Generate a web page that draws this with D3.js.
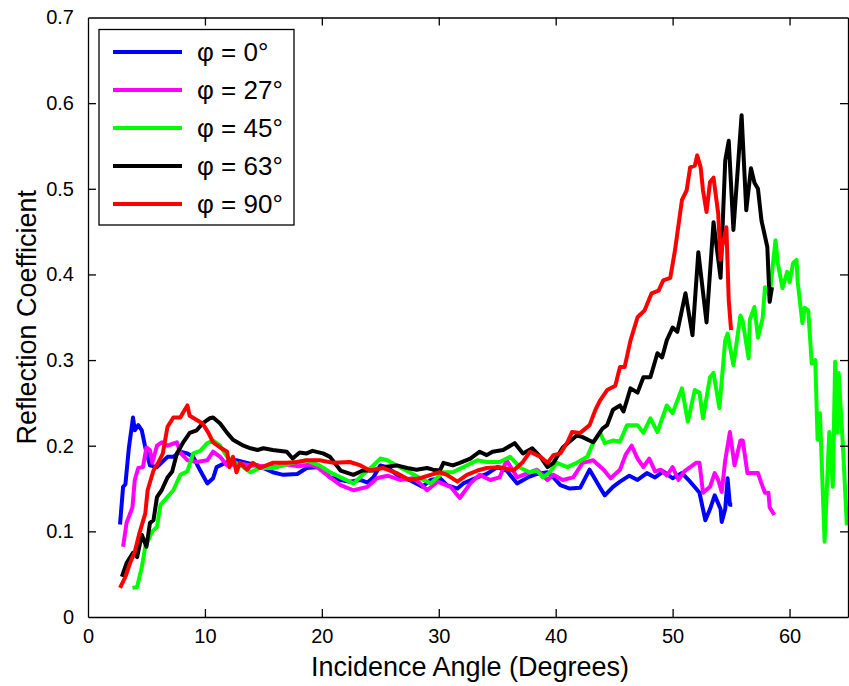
<!DOCTYPE html>
<html><head><meta charset="utf-8">
<script src="https://cdn.jsdelivr.net/npm/d3@7"></script>
<style>
html,body{margin:0;padding:0;background:#fff;}
text{font-family:"Liberation Sans",Arial,Helvetica,sans-serif;fill:#000;}
</style></head>
<body><svg id="chart" width="849" height="686"></svg>
<script>
// ---------- DATA ----------
const seriesLabels = ["φ = 0°", "φ = 27°", "φ = 45°", "φ = 63°", "φ = 90°"];
const seriesColors = ["#0000ff", "#ff00ff", "#00ff00", "#000000", "#ff0000"];
const xTicks = [0, 10, 20, 30, 40, 50, 60];
const yTicks = [0, 0.1, 0.2, 0.3, 0.4, 0.5, 0.6, 0.7];

const phi0X = [2.74,3.0,3.2,3.5,3.85,4.0,4.3,4.6,4.9,5.3,5.9,6.8,7.3,7.9,8.5,9.0,9.6,10.2,10.7,11.0,11.9,12.7,13.6,14.5,15.8,16.7,17.9,18.7,19.8,20.7,21.6,22.4,23.3,23.9,24.4,25.0,25.6,26.7,27.5,28.6,29.3,30.1,30.7,31.6,32.1,33.3,34.1,35.0,35.8,36.7,37.6,38.4,39.3,39.8,40.4,41.2,42.1,42.9,43.8,44.2,44.9,45.5,46.3,47.0,47.8,48.5,49.2,50.0,50.8,51.5,52.0,52.3,52.8,53.2,53.6,54.1,54.2,54.5,54.7,54.9,55.1];
const phi0Y = [0.108,0.152,0.155,0.198,0.233,0.218,0.224,0.218,0.198,0.177,0.175,0.187,0.187,0.193,0.191,0.187,0.171,0.156,0.162,0.175,0.181,0.183,0.180,0.177,0.169,0.166,0.167,0.174,0.175,0.163,0.160,0.158,0.160,0.157,0.163,0.177,0.175,0.163,0.160,0.152,0.160,0.162,0.154,0.150,0.156,0.163,0.167,0.175,0.171,0.156,0.163,0.167,0.169,0.163,0.154,0.150,0.151,0.172,0.151,0.142,0.152,0.158,0.165,0.160,0.168,0.163,0.170,0.162,0.168,0.158,0.150,0.145,0.113,0.126,0.142,0.126,0.111,0.126,0.162,0.131,0.131];

const phi27X = [3.0,3.3,3.8,4.0,4.3,4.7,5.0,5.3,5.5,5.9,6.3,6.8,7.2,7.6,7.9,8.5,9.3,10.2,10.7,11.3,11.9,13.0,14.0,15.0,16.0,17.0,18.0,19.0,19.6,20.7,21.6,22.7,23.9,24.7,25.6,26.7,27.8,28.4,29.0,29.9,31.0,31.8,32.7,33.5,34.4,35.2,35.8,36.7,37.6,38.4,39.3,39.8,40.6,41.5,42.3,43.2,44.1,44.7,45.5,46.0,46.5,47.0,47.5,48.0,48.5,49.0,49.5,50.0,50.5,51.0,51.5,52.0,52.3,52.6,53.2,53.6,53.9,54.2,54.5,54.9,55.3,55.8,56.0,56.4,56.9,57.3,57.6,57.9,58.2,58.3,58.7];
const phi27Y = [0.082,0.110,0.128,0.160,0.174,0.175,0.198,0.195,0.180,0.200,0.204,0.200,0.202,0.204,0.192,0.183,0.181,0.183,0.193,0.187,0.177,0.179,0.177,0.176,0.175,0.178,0.176,0.178,0.175,0.163,0.154,0.148,0.152,0.162,0.165,0.160,0.162,0.156,0.148,0.158,0.152,0.139,0.156,0.166,0.160,0.163,0.183,0.163,0.168,0.172,0.160,0.166,0.160,0.163,0.180,0.183,0.172,0.162,0.172,0.190,0.200,0.185,0.175,0.185,0.170,0.172,0.165,0.175,0.160,0.170,0.175,0.180,0.180,0.145,0.152,0.168,0.160,0.146,0.183,0.216,0.177,0.206,0.206,0.168,0.168,0.168,0.156,0.145,0.145,0.128,0.119];

const phi45X = [3.8,4.2,4.6,4.9,5.5,5.9,6.2,6.6,7.3,7.9,8.5,9.0,9.6,10.2,10.7,11.3,11.9,12.4,13.3,13.9,14.7,15.8,17.5,18.7,19.8,20.7,21.6,22.7,23.5,24.4,25.0,25.6,26.4,27.5,28.7,29.3,30.4,31.2,32.1,33.3,34.1,35.2,36.1,37.0,37.8,38.4,38.9,39.5,40.1,41.0,41.8,42.7,43.2,43.8,44.2,44.9,45.5,46.1,47.0,47.5,48.1,48.7,49.5,50.0,50.8,51.3,51.9,52.3,52.6,53.2,53.5,54.0,54.5,54.7,55.2,55.8,56.0,56.5,56.6,57.0,57.3,57.7,57.9,58.3,58.8,59.0,59.4,59.8,60.0,60.3,60.6,60.7,61.1,61.3,61.6,61.9,62.2,62.4,62.6,63.0,63.4,63.7,63.9,64.1,64.2,64.6,64.9];
const phi45Y = [0.034,0.035,0.058,0.082,0.100,0.105,0.131,0.137,0.148,0.166,0.170,0.191,0.194,0.203,0.206,0.200,0.187,0.182,0.175,0.169,0.174,0.174,0.180,0.183,0.177,0.169,0.163,0.156,0.166,0.177,0.185,0.183,0.177,0.169,0.160,0.156,0.169,0.169,0.175,0.183,0.181,0.181,0.187,0.174,0.169,0.171,0.163,0.169,0.180,0.175,0.180,0.187,0.203,0.215,0.203,0.206,0.205,0.224,0.224,0.215,0.232,0.216,0.247,0.238,0.267,0.228,0.265,0.262,0.232,0.280,0.285,0.244,0.323,0.331,0.294,0.352,0.345,0.302,0.347,0.362,0.326,0.349,0.385,0.376,0.440,0.413,0.384,0.403,0.391,0.413,0.417,0.391,0.343,0.361,0.358,0.296,0.300,0.207,0.238,0.088,0.216,0.152,0.298,0.215,0.285,0.191,0.107];

const phi63X = [2.9,3.3,3.85,4.2,4.6,5.0,5.3,5.6,5.9,6.3,6.8,7.2,7.6,8.1,8.7,9.3,9.8,10.4,10.7,11.3,11.9,12.4,13.3,13.9,14.5,15.0,15.8,17.0,17.5,18.1,18.7,19.2,20.1,20.7,21.6,22.7,23.5,24.4,25.2,26.4,27.3,28.1,29.0,29.5,30.1,30.4,31.2,31.8,32.7,33.5,34.1,34.6,35.5,36.5,37.2,38.0,38.7,39.3,39.8,40.6,41.8,42.3,43.2,44.0,44.4,44.9,45.5,45.8,46.4,47.0,47.5,48.1,48.7,49.1,49.5,50.0,50.4,51.1,51.7,52.2,52.9,53.5,54.1,54.5,54.8,55.2,55.9,56.3,56.7,57.0,57.3,57.6,58.1,58.3,58.5];
const phi63Y = [0.047,0.063,0.075,0.070,0.096,0.082,0.110,0.113,0.140,0.148,0.163,0.170,0.191,0.203,0.215,0.218,0.226,0.232,0.233,0.226,0.215,0.207,0.200,0.197,0.195,0.197,0.195,0.193,0.185,0.192,0.191,0.194,0.191,0.187,0.171,0.166,0.171,0.171,0.175,0.177,0.174,0.172,0.174,0.172,0.171,0.180,0.177,0.180,0.185,0.193,0.189,0.193,0.195,0.203,0.191,0.197,0.187,0.175,0.180,0.198,0.212,0.210,0.204,0.220,0.224,0.242,0.247,0.240,0.267,0.262,0.280,0.280,0.308,0.303,0.323,0.338,0.333,0.378,0.329,0.426,0.344,0.461,0.396,0.533,0.556,0.452,0.586,0.475,0.524,0.507,0.500,0.463,0.432,0.368,0.385];

const phi90X = [2.74,3.2,3.6,4.0,4.4,4.9,5.1,5.6,6.0,6.4,6.8,7.3,7.9,8.1,8.5,8.7,9.3,9.8,10.3,10.7,11.3,11.9,12.1,12.4,12.7,13.0,13.6,14.1,14.7,15.8,17.0,17.9,18.7,19.8,21.0,22.4,23.3,24.1,25.2,26.4,27.5,28.4,29.3,30.1,30.7,31.6,32.4,33.3,34.1,35.2,36.4,37.2,37.8,38.7,39.3,39.8,40.4,41.0,41.4,42.1,42.9,43.4,43.8,44.4,45.1,45.5,45.9,46.4,47.0,47.6,48.2,48.8,49.2,49.8,50.2,50.8,51.2,51.5,51.9,52.1,52.4,52.6,52.9,53.2,53.5,53.9,54.1,54.2,54.6,54.8,55.0];
const phi90Y = [0.034,0.047,0.063,0.076,0.098,0.121,0.148,0.171,0.180,0.191,0.222,0.233,0.233,0.238,0.247,0.235,0.230,0.226,0.215,0.204,0.198,0.193,0.175,0.187,0.169,0.180,0.172,0.180,0.174,0.180,0.180,0.181,0.183,0.183,0.180,0.181,0.177,0.171,0.174,0.168,0.160,0.162,0.166,0.169,0.166,0.158,0.166,0.171,0.174,0.175,0.171,0.181,0.193,0.187,0.180,0.189,0.191,0.204,0.216,0.215,0.224,0.242,0.253,0.265,0.270,0.292,0.292,0.323,0.350,0.358,0.378,0.381,0.393,0.396,0.428,0.487,0.498,0.525,0.527,0.539,0.525,0.498,0.473,0.508,0.513,0.471,0.417,0.430,0.455,0.370,0.335];

const seriesX = [phi0X, phi27X, phi45X, phi63X, phi90X];
const seriesY = [phi0Y, phi27Y, phi45Y, phi63Y, phi90Y];

// ---------- LAYOUT ----------
const W = 849, H = 686;
const m = {left: 88, top: 17.5, right: 1, bottom: 69};
const svg = d3.select("#chart");
const x = d3.scaleLinear().domain([0, 65]).range([m.left, W - m.right]);
const y = d3.scaleLinear().domain([0, 0.7]).range([H - m.bottom, m.top]);

// lines
const line = d3.line().x(d => x(d[0])).y(d => y(d[1]));
const plot = svg.append("g");
seriesX.forEach((xs, i) => {
  const pts = xs.map((v, k) => [v, seriesY[i][k]]);
  plot.append("path").datum(pts)
    .attr("d", line)
    .attr("fill", "none")
    .attr("stroke", seriesColors[i])
    .attr("stroke-width", 4)
    .attr("stroke-linejoin", "round")
    .attr("stroke-linecap", "butt");
});

// axes (MATLAB style inward ticks on all sides)
const tl = 8;
const fmtY = d => d === 0 ? "0" : d3.format(".1f")(d);
const axB = svg.append("g").attr("transform", `translate(0,${y(0)})`)
  .call(d3.axisBottom(x).tickValues(xTicks).tickSizeInner(-tl).tickSizeOuter(0).tickPadding(12));
const axT = svg.append("g").attr("transform", `translate(0,${y(0.7)})`)
  .call(d3.axisTop(x).tickValues(xTicks).tickSizeInner(-tl).tickSizeOuter(0).tickFormat(""));
const axL = svg.append("g").attr("transform", `translate(${x(0)},0)`)
  .call(d3.axisLeft(y).tickValues(yTicks).tickSizeInner(-tl).tickSizeOuter(0).tickFormat(fmtY).tickPadding(14));
const axR = svg.append("g").attr("transform", `translate(${x(65)},0)`)
  .call(d3.axisRight(y).tickValues(yTicks).tickSizeInner(-tl).tickSizeOuter(0).tickFormat(""));
[axB, axT, axL, axR].forEach(a => {
  a.select(".domain").attr("stroke", "#000").attr("stroke-width", 1.3);
  a.selectAll(".tick line").attr("stroke", "#000").attr("stroke-width", 1.3);
  a.selectAll("text").attr("font-size", 20).attr("font-family", "Liberation Sans, Arial, sans-serif").attr("fill", "#000");
});
// remove end ticks that sit on the box corners
axL.selectAll(".tick").filter(d => d === 0 || d === 0.7).select("line").remove();
axR.selectAll(".tick").filter(d => d === 0 || d === 0.7).select("line").remove();
axB.selectAll(".tick").filter(d => d === 0).select("line").remove();
axT.selectAll(".tick").filter(d => d === 0).select("line").remove();

// axis titles
svg.append("text").attr("x", (x(0) + x(65)) / 2 + 2).attr("y", 676)
  .attr("text-anchor", "middle").attr("font-size", 27).text("Incidence Angle (Degrees)");
svg.append("text").attr("transform", `translate(36,${(y(0) + y(0.7)) / 2}) rotate(-90)`)
  .attr("text-anchor", "middle").attr("font-size", 27).text("Reflection Coefficient");

// legend
const lg = svg.append("g");
const lgX = 99, lgY = 29.5, lgW = 195, rowH = 38, firstRow = 22.5;
lg.append("rect").attr("x", lgX).attr("y", lgY).attr("width", lgW)
  .attr("height", firstRow + rowH * (seriesLabels.length - 1) + 21)
  .attr("fill", "#fff").attr("stroke", "#000").attr("stroke-width", 1.3);
seriesLabels.forEach((lab, i) => {
  const cy = lgY + firstRow + i * rowH;
  lg.append("line").attr("x1", 113).attr("x2", 182).attr("y1", cy).attr("y2", cy)
    .attr("stroke", seriesColors[i]).attr("stroke-width", 4);
  lg.append("text").attr("x", 197).attr("y", cy + 9).attr("font-size", 26).text(lab);
});
</script></body></html>
